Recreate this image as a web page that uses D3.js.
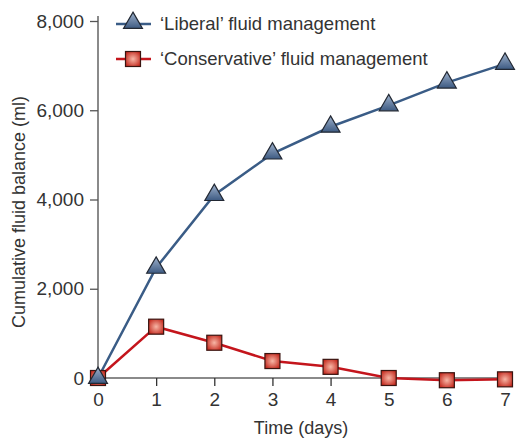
<!DOCTYPE html>
<html><head><meta charset="utf-8">
<script src="https://cdn.jsdelivr.net/npm/d3@7"></script>
<style>body{margin:0;background:#fff}svg{display:block}</style>
</head><body>
<script>
const days = [0,1,2,3,4,5,6,7];
const liberal = [0,2470,4100,5030,5630,6110,6620,7040];
const conservative = [0,1150,790,380,250,0,-50,-30];
const yTicks = [0,2000,4000,6000,8000];
const seriesNames = ["\u2018Liberal\u2019 fluid management","\u2018Conservative\u2019 fluid management"];
const xLabel = "Time (days)";
const yLabel = "Cumulative fluid balance (ml)";

const W=518,H=439;
const svg=d3.select("body").append("svg").attr("width",W).attr("height",H);
const font="Liberation Sans, Arial, sans-serif";
const x=d3.scaleLinear().domain([0,7]).range([98,505]);
const y=d3.scaleLinear().domain([0,8000]).range([378,21]);

const defs=svg.append("defs");
const gb=defs.append("linearGradient").attr("id","gb").attr("x1",0).attr("y1",0).attr("x2",0).attr("y2",1);
gb.append("stop").attr("offset","0%").attr("stop-color","#9fb2cc");
gb.append("stop").attr("offset","100%").attr("stop-color","#3d5a82");
const gr=defs.append("radialGradient").attr("id","gr").attr("cx","50%").attr("cy","50%").attr("r","60%");
gr.append("stop").attr("offset","0%").attr("stop-color","#f7b6a6");
gr.append("stop").attr("offset","100%").attr("stop-color","#c4291e");

// axes
const ya=svg.append("g").attr("transform","translate(98,0)")
  .call(d3.axisLeft(y).tickValues(yTicks).tickSize(8).tickPadding(6).tickFormat(d3.format(",")));
const xa=svg.append("g").attr("transform","translate(0,378)")
  .call(d3.axisBottom(x).tickValues(days).tickSize(8).tickPadding(7).tickFormat(d3.format("d")));
ya.select(".domain").attr("d","M0,16V378").attr("stroke","#8a8a8a").attr("stroke-width",2);
xa.select(".domain").attr("d","M98,0H510").attr("stroke","#8a8a8a").attr("stroke-width",2);
[ya,xa].forEach(a=>{
  a.selectAll(".tick line").attr("stroke","#555").attr("stroke-width",1.3);
  a.selectAll(".tick text").attr("fill","#333").attr("font-family",font).attr("font-size",19);
});
xa.selectAll(".tick line").attr("stroke","#333");

svg.append("text").attr("x",301).attr("y",434).attr("text-anchor","middle")
  .attr("font-family",font).attr("font-size",18).attr("fill","#333").text(xLabel);
svg.append("text").attr("transform","translate(25,212) rotate(-90)").attr("text-anchor","middle")
  .attr("font-family",font).attr("font-size",18).attr("fill","#333").text(yLabel);

const line=d3.line().x((d,i)=>x(days[i])).y(d=>y(d));
svg.append("path").datum(conservative).attr("d",line).attr("fill","none").attr("stroke","#c4151c").attr("stroke-width",2.5);
svg.append("path").datum(liberal).attr("d",line).attr("fill","none").attr("stroke","#3a5c86").attr("stroke-width",2.5);

const tri=d3.symbol().type(d3.symbolTriangle).size(155);
function drawTri(g,cx,cy){g.append("path").attr("d",tri()).attr("transform",`translate(${cx},${cy})`)
  .attr("fill","url(#gb)").attr("stroke","#222833").attr("stroke-width",1.2);}
function drawSq(g,cx,cy){g.append("rect").attr("x",cx-7.5).attr("y",cy-7.5).attr("width",15).attr("height",15)
  .attr("fill","url(#gr)").attr("stroke","#3a1410").attr("stroke-width",1.2);}

const ms=svg.append("g");
conservative.forEach((v,i)=>drawSq(ms,x(days[i]),y(v)));
liberal.forEach((v,i)=>drawTri(ms,x(days[i]),y(v)));

// legend
const lg=svg.append("g");
lg.append("line").attr("x1",116).attr("x2",151).attr("y1",24).attr("y2",24).attr("stroke","#3a5c86").attr("stroke-width",2.5);
drawTri(lg,133,23);
lg.append("line").attr("x1",116).attr("x2",151).attr("y1",59).attr("y2",59).attr("stroke","#c4151c").attr("stroke-width",2.5);
drawSq(lg,133,59);
seriesNames.forEach((s,i)=>lg.append("text").attr("x",160).attr("y",30+i*35)
  .attr("font-family",font).attr("font-size",18.5).attr("fill","#333").text(s));
</script>
</body></html>
